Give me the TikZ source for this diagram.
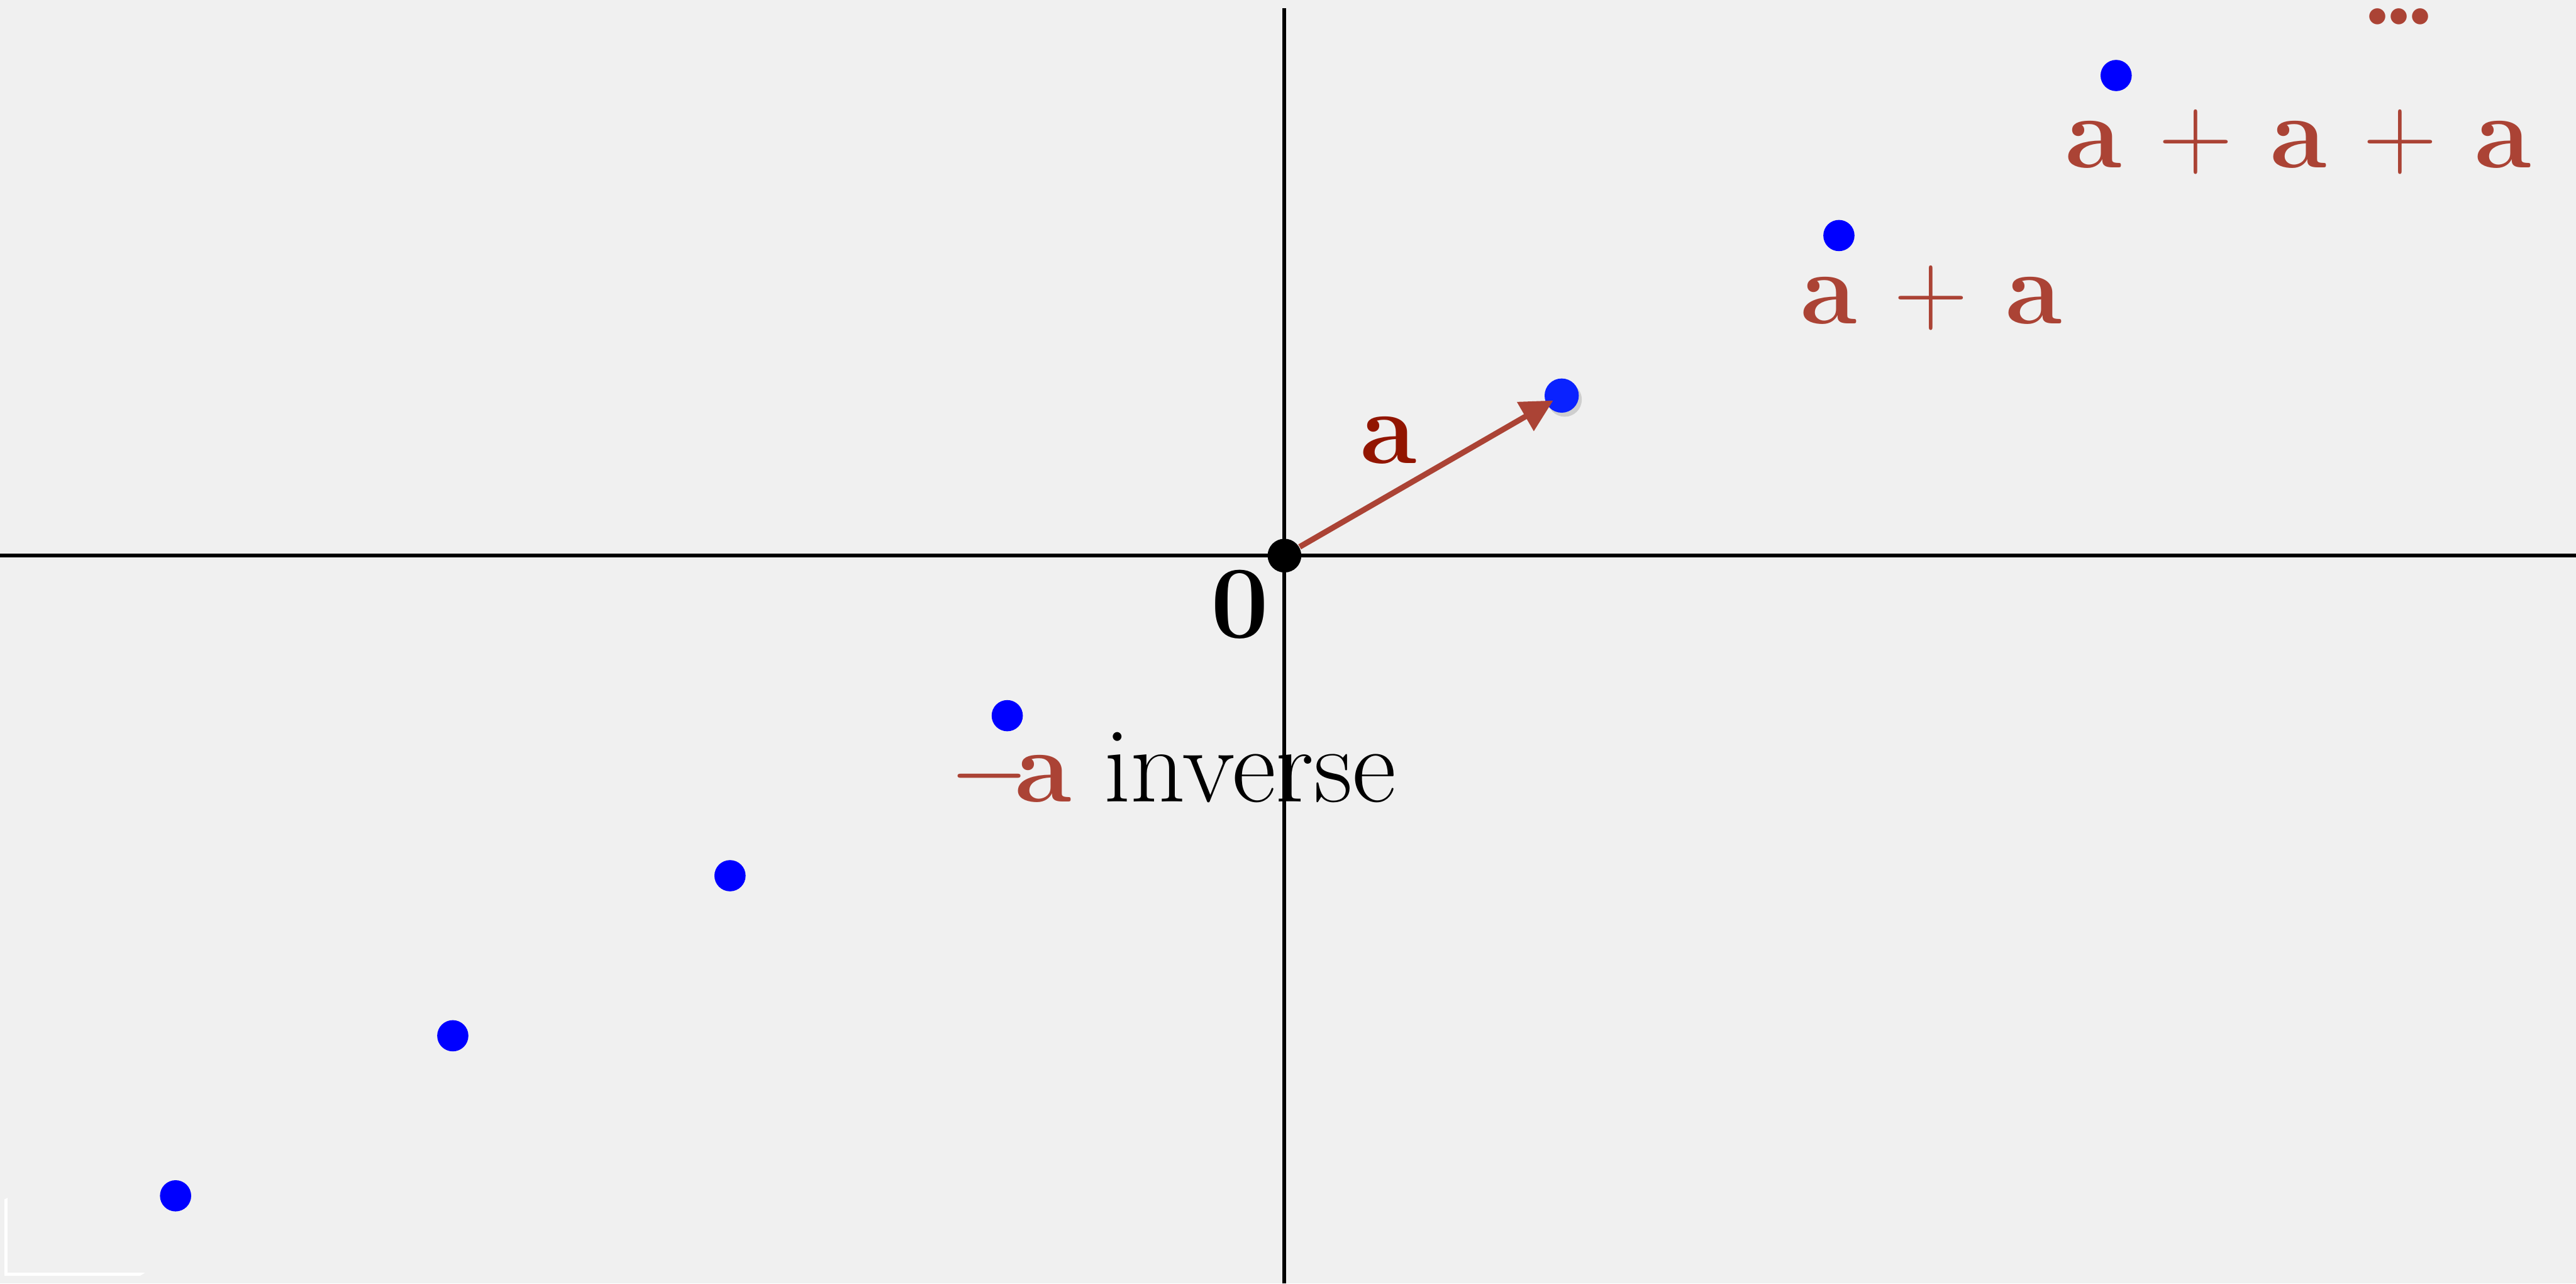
\documentclass[tikz,border=0pt]{standalone}
\usepackage{amsmath,amsfonts,amssymb,bm}
\usepackage{tikz}
\usetikzlibrary{arrows.meta,positioning,calc,shadows}
\definecolor{bggray}{RGB}{240,240,240}
\definecolor{brick}{RGB}{171,67,53}
\definecolor{deepred}{RGB}{146,21,0}
\definecolor{ptblue}{RGB}{0,0,255}
\definecolor{ablue}{RGB}{10,34,255}
\newcommand{\bdot}{\mathord{\bm{\cdot}}}

\begin{document}
\begin{tikzpicture}[>=Stealth,
  pt/.style={circle,fill=ptblue,inner sep=0pt,minimum size=3.1mm},
  lbl/.style={inner sep=0pt,anchor=base west,scale=1.17,font=\fontsize{26}{30}\selectfont},
  axisline/.style={line width=1.1pt}]
  \fill[bggray] (-12.765,-7.23) rectangle (12.835,5.52);
  \useasboundingbox (-12.765,-7.23) rectangle (12.835,5.52);
  % axes
  \draw[axisline] (-12.765,0) -- (12.835,0);
  \draw[axisline] (0,-7.23) -- (0,5.44);
  % multiples of a
  \node[pt,minimum size=3.4mm,fill=ablue,drop shadow={shadow xshift=0.3mm,shadow yshift=-0.4mm,opacity=0.3}] (A) at (2.755,1.59) {};
  \node[pt] (A2) at (2*2.755,2*1.59) {};
  \node[pt] (A3) at (3*2.755,3*1.59) {};
  \foreach \k in {1,...,4}
    \node[pt] (m\k) at (-\k*2.755,-\k*1.59) {};
  \node[circle,fill=black,inner sep=0pt,minimum size=3.35mm] (O) at (0,0) {};
  \draw[brick,line width=1.6pt,-{Triangle[length=3.2mm,width=3.2mm]},shorten >=-0.8mm] (O) -- (A);
  % labels
  \node[lbl,anchor=base,text=deepred] (la) at (1.03,0.92) {$\mathbf{a}$};
  \node[lbl,anchor=base] (lo) at (-0.44,-0.815) {$\mathbf{0}$};
  \node[lbl] (linv) at (-3.34,-2.445) {\textcolor{brick}{$-\mkern-2.5mu\mathbf{a}$} inverse};
  \node[lbl,text=brick] (l2) at (5.12,2.305) {$\mathbf{a}\mkern2.5mu+\mkern2.5mu\mathbf{a}$};
  \node[lbl,text=brick] (l3) at (7.75,3.855) {$\mathbf{a}\mkern2.5mu+\mkern2.5mu\mathbf{a}\mkern2.5mu+\mkern2.5mu\mathbf{a}$};
  \node[lbl,anchor=base,text=brick,text height=0.35em,text depth=0pt] (ldots) at (11.075,5.10)
    {$\bdot\mkern-2mu\bdot\mkern-2mu\bdot$};
  % corner mark
  \fill[white] (-12.72,-6.395) -- (-12.69,-6.38) -- (-12.69,-7.125) -- (-11.325,-7.125)
    -- (-11.375,-7.155) -- (-12.72,-7.155) -- cycle;
\end{tikzpicture}
\end{document}
